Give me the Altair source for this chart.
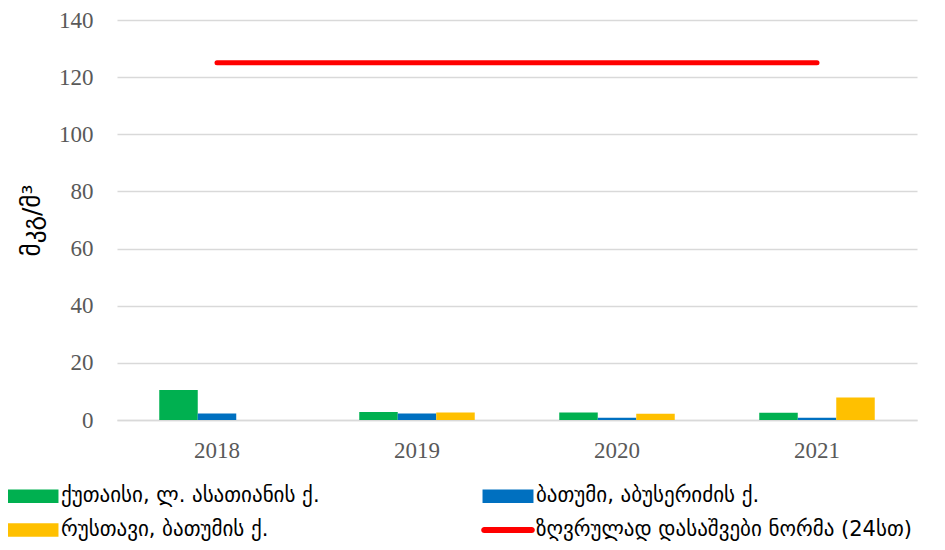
import altair as alt
import pandas as pd

years = ["2018", "2019", "2020", "2021"]
series_names = [
    "ქუთაისი, ლ. ასათიანის ქ.",
    "ბათუმი, აბუსერიძის ქ.",
    "რუსთავი, ბათუმის ქ.",
    "ზღვრულად დასაშვები ნორმა (24სთ)",
]
kutaisi = [10.5, 2.8, 2.6, 2.5]
batumi = [2.3, 2.3, 0.8, 0.8]
rustavi = [None, 2.6, 2.2, 7.9]
norm = [125, 125, 125, 125]
colors = ["#00B050", "#0070C0", "#FFC000", "#FF0000"]
y_ticks = [0, 20, 40, 60, 80, 100, 120, 140]

rows = []
for name, vals in zip(series_names[:3], [kutaisi, batumi, rustavi]):
    for y, v in zip(years, vals):
        if v is not None:
            rows.append({"year": y, "series": name, "value": v})
bars_df = pd.DataFrame(rows)
norm_df = pd.DataFrame({"year": years, "series": series_names[3], "value": norm})

color_scale = alt.Scale(domain=series_names, range=colors)
rect_path = "M-3.64,-0.95H3.64V0.95H-3.64Z"
line_path = "M-3.4,-0.43H3.4A0.43,0.43 0 0 1 3.4,0.43H-3.4A0.43,0.43 0 0 1 -3.4,-0.43Z"
shape_scale = alt.Scale(domain=series_names, range=[rect_path, rect_path, rect_path, line_path])
x_scale = alt.Scale(domain=years, paddingInner=0.4225, paddingOuter=0.21125)
y_scale = alt.Scale(domain=[0, 140])

legend = alt.Legend(
    title=None,
    orient="none",
    direction="horizontal",
    legendX=-94.5,
    legendY=465.5,
    columns=2,
    columnPadding=160,
    rowPadding=12,
    padding=0,
    symbolSize=196,
    symbolStrokeWidth=0,
    symbolOpacity=1,
    labelFont="DejaVu Sans",
    labelFontSize=21,
    labelColor="#000000",
    labelOffset=17.5,
    labelLimit=600,
)

y_axis = alt.Axis(
    title="მკგ/მ³",
    values=y_ticks,
    titleFont="DejaVu Sans",
    titleFontSize=25,
    titleFontWeight="normal",
    titleColor="#000000",
    titleX=-86,
    titleY=200,
    titleAngle=270,
    titleAlign="center",
    titleBaseline="middle",
)

bars = alt.Chart(bars_df).mark_bar().encode(
    x=alt.X("year:N", scale=x_scale, axis=alt.Axis(title=None)),
    xOffset=alt.XOffset("series:N", scale=alt.Scale(domain=series_names[:3], paddingInner=0, paddingOuter=0)),
    y=alt.Y("value:Q", scale=y_scale, axis=y_axis),
    color=alt.Color("series:N", scale=color_scale, legend=legend),
)

line = alt.Chart(norm_df).mark_line(strokeWidth=5, strokeCap="round").encode(
    x=alt.X("year:N", scale=x_scale),
    y=alt.Y("value:Q", scale=y_scale),
    color=alt.Color("series:N", scale=color_scale, legend=legend),
)

keys = alt.Chart(norm_df).mark_point(filled=True, opacity=1).encode(
    x=alt.X("year:N", scale=x_scale),
    y=alt.Y("value:Q", scale=y_scale),
    color=alt.Color("series:N", scale=color_scale, legend=legend),
    shape=alt.Shape("series:N", scale=shape_scale, legend=legend),
).transform_filter("false")

chart = alt.layer(bars, line, keys).properties(
    width=800,
    height=400,
    padding={"left": 109, "top": 12, "right": 12, "bottom": 122},
    autosize=alt.AutoSizeParams(type="none"),
).configure_view(stroke=None).configure_axisX(
    labelFont="Liberation Serif",
    labelFontSize=23,
    labelColor="#595959",
    labelPadding=19,
    labelAngle=0,
    ticks=False,
    domainColor="#d9d9d9",
    domainWidth=1.5,
    grid=False,
).configure_axisY(
    labelFont="Liberation Serif",
    labelFontSize=23,
    labelColor="#595959",
    labelPadding=24,
    ticks=False,
    domain=False,
    gridColor="#d9d9d9",
    gridWidth=1.3,
)

chart.save("out.html", embed_options={"renderer": "svg", "actions": False})
